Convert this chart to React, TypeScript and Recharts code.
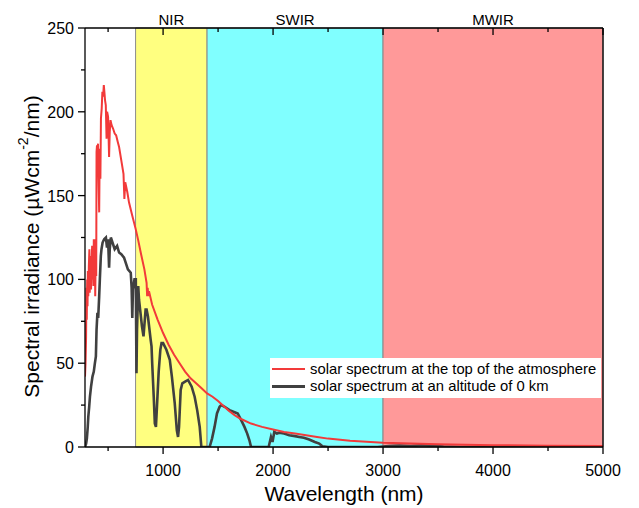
import React from 'react';
import { ComposedChart, Line, XAxis, YAxis, ReferenceArea, Legend, Label } from 'recharts';

const FONT = '"Liberation Sans", Arial, Helvetica, sans-serif';

// wavelength in nm, irradiance in µW cm-2 nm-1
const topOfAtmosphere = [
  { wl: 290, v: 42 }, { wl: 295, v: 50 }, { wl: 300, v: 66 }, { wl: 303, v: 95 },
  { wl: 306, v: 76 }, { wl: 310, v: 100 }, { wl: 313, v: 84 }, { wl: 316, v: 105 },
  { wl: 320, v: 90 }, { wl: 325, v: 108 }, { wl: 330, v: 118 }, { wl: 333, v: 92 },
  { wl: 337, v: 106 }, { wl: 340, v: 114 }, { wl: 345, v: 94 }, { wl: 350, v: 110 },
  { wl: 355, v: 120 }, { wl: 358, v: 100 }, { wl: 362, v: 117 }, { wl: 367, v: 96 },
  { wl: 370, v: 124 }, { wl: 375, v: 110 }, { wl: 380, v: 124 }, { wl: 383, v: 90 },
  { wl: 388, v: 118 }, { wl: 392, v: 102 }, { wl: 395, v: 176 }, { wl: 399, v: 180 },
  { wl: 403, v: 172 }, { wl: 408, v: 181 }, { wl: 413, v: 160 }, { wl: 419, v: 140 },
  { wl: 424, v: 178 }, { wl: 430, v: 160 }, { wl: 435, v: 196 }, { wl: 442, v: 202 },
  { wl: 448, v: 212 }, { wl: 455, v: 209 }, { wl: 461, v: 216 }, { wl: 466, v: 212 },
  { wl: 472, v: 207 }, { wl: 479, v: 204 }, { wl: 486, v: 184 }, { wl: 491, v: 200 },
  { wl: 500, v: 197 }, { wl: 509, v: 173 }, { wl: 515, v: 188 }, { wl: 522, v: 195 },
  { wl: 532, v: 192 }, { wl: 545, v: 190 }, { wl: 560, v: 187 }, { wl: 573, v: 186 },
  { wl: 588, v: 182 }, { wl: 600, v: 179 }, { wl: 620, v: 171 }, { wl: 640, v: 163 },
  { wl: 648, v: 148 }, { wl: 656, v: 158 }, { wl: 675, v: 152 }, { wl: 690, v: 146 },
  { wl: 720, v: 138 }, { wl: 751, v: 130 }, { wl: 775, v: 123 }, { wl: 800, v: 115 },
  { wl: 830, v: 106 }, { wl: 850, v: 98 }, { wl: 855, v: 90 }, { wl: 860, v: 95 },
  { wl: 866, v: 90 }, { wl: 872, v: 93 }, { wl: 900, v: 85 }, { wl: 950, v: 76 },
  { wl: 1000, v: 68 }, { wl: 1050, v: 61 }, { wl: 1100, v: 55 }, { wl: 1150, v: 50 },
  { wl: 1200, v: 45 }, { wl: 1250, v: 41 }, { wl: 1300, v: 38 }, { wl: 1350, v: 35 },
  { wl: 1400, v: 32 }, { wl: 1450, v: 30 }, { wl: 1500, v: 27.5 }, { wl: 1550, v: 24.5 },
  { wl: 1600, v: 21.5 }, { wl: 1650, v: 19 }, { wl: 1700, v: 17 }, { wl: 1800, v: 14 },
  { wl: 1900, v: 12 }, { wl: 2000, v: 10.5 }, { wl: 2100, v: 9 }, { wl: 2200, v: 8 },
  { wl: 2300, v: 7 }, { wl: 2400, v: 6 }, { wl: 2500, v: 5 }, { wl: 2700, v: 3.8 },
  { wl: 3000, v: 2.6 }, { wl: 3500, v: 1.7 }, { wl: 4000, v: 1.1 }, { wl: 4500, v: 0.8 },
  { wl: 5000, v: 0.6 },
];

const seaLevel = [
  { wl: 290, v: 0 }, { wl: 300, v: 2 }, { wl: 307, v: 5 }, { wl: 315, v: 12 },
  { wl: 320, v: 18 }, { wl: 328, v: 24 }, { wl: 335, v: 30 }, { wl: 345, v: 36 },
  { wl: 358, v: 42 }, { wl: 370, v: 45 }, { wl: 380, v: 50 }, { wl: 389, v: 54 },
  { wl: 395, v: 70 }, { wl: 403, v: 80 }, { wl: 410, v: 77 }, { wl: 419, v: 90 },
  { wl: 425, v: 100 }, { wl: 434, v: 114 }, { wl: 440, v: 118 }, { wl: 450, v: 122 },
  { wl: 464, v: 124 }, { wl: 480, v: 125 }, { wl: 490, v: 119 }, { wl: 500, v: 124 },
  { wl: 509, v: 107 }, { wl: 515, v: 118 }, { wl: 525, v: 125 }, { wl: 540, v: 122 },
  { wl: 560, v: 118 }, { wl: 582, v: 120 }, { wl: 600, v: 116 }, { wl: 620, v: 115 },
  { wl: 645, v: 113 }, { wl: 660, v: 110 }, { wl: 680, v: 106 }, { wl: 706, v: 104 },
  { wl: 714, v: 95 }, { wl: 720, v: 77 }, { wl: 726, v: 94 }, { wl: 740, v: 100 },
  { wl: 752, v: 100 }, { wl: 758, v: 44 }, { wl: 763, v: 70 }, { wl: 774, v: 96 },
  { wl: 781, v: 88 }, { wl: 808, v: 72 }, { wl: 822, v: 66 }, { wl: 841, v: 82 },
  { wl: 850, v: 82 }, { wl: 862, v: 78 }, { wl: 887, v: 64 }, { wl: 895, v: 60 },
  { wl: 901, v: 50 }, { wl: 915, v: 30 }, { wl: 925, v: 14 }, { wl: 935, v: 12 },
  { wl: 945, v: 25 }, { wl: 960, v: 45 }, { wl: 975, v: 58 }, { wl: 986, v: 62 },
  { wl: 1000, v: 62 }, { wl: 1030, v: 58 }, { wl: 1061, v: 52 }, { wl: 1080, v: 42 },
  { wl: 1106, v: 26 }, { wl: 1125, v: 10 }, { wl: 1136, v: 6 }, { wl: 1145, v: 12 },
  { wl: 1160, v: 34 }, { wl: 1175, v: 38 }, { wl: 1200, v: 39 }, { wl: 1227, v: 40 },
  { wl: 1260, v: 36 }, { wl: 1287, v: 30 }, { wl: 1310, v: 22 }, { wl: 1333, v: 12 },
  { wl: 1348, v: 0 }, { wl: 1423, v: 0 }, { wl: 1445, v: 5 }, { wl: 1468, v: 12 },
  { wl: 1490, v: 20 }, { wl: 1514, v: 24 }, { wl: 1529, v: 25 }, { wl: 1560, v: 24 },
  { wl: 1604, v: 22 }, { wl: 1640, v: 21 }, { wl: 1679, v: 20 }, { wl: 1710, v: 16 },
  { wl: 1740, v: 12 }, { wl: 1765, v: 8 }, { wl: 1785, v: 4 }, { wl: 1800, v: 0 },
  { wl: 1960, v: 0 }, { wl: 1981, v: 6 }, { wl: 1995, v: 3 }, { wl: 2011, v: 9 },
  { wl: 2035, v: 8 }, { wl: 2057, v: 8.5 }, { wl: 2100, v: 8 }, { wl: 2147, v: 7 },
  { wl: 2200, v: 6.5 }, { wl: 2238, v: 6 }, { wl: 2280, v: 5.5 }, { wl: 2328, v: 4.5 },
  { wl: 2380, v: 3 }, { wl: 2420, v: 2 }, { wl: 2449, v: 0.5 }, { wl: 2500, v: 0 },
  { wl: 2950, v: 0 }, { wl: 3050, v: 0.5 }, { wl: 3150, v: 0.9 }, { wl: 3250, v: 0.6 },
  { wl: 3350, v: 1 }, { wl: 3450, v: 0.7 }, { wl: 3550, v: 0.3 }, { wl: 3700, v: 0 },
  { wl: 5000, v: 0 },
];

const bands = [
  { name: 'NIR', from: 750, to: 1400, color: '#ffff80' },
  { name: 'SWIR', from: 1400, to: 3000, color: '#80ffff' },
  { name: 'MWIR', from: 3000, to: 5000, color: '#ff9999' },
];

const xTicks = [500, 1000, 1500, 2000, 2500, 3000, 3500, 4000, 4500, 5000];
const yTicks = [0, 25, 50, 75, 100, 125, 150, 175, 200, 225, 250];

const series = [
  { name: 'solar spectrum at the top of the atmosphere', color: '#f23a3a' },
  { name: 'solar spectrum at an altitude of 0 km', color: '#404040' },
];

function BottomTick({ x, y, payload }: any) {
  const major = payload.value % 1000 === 0;
  return (
    <g>
      <line x1={x} x2={x} y1={y} y2={y + (major ? 7 : 4)} stroke="#000" strokeWidth={1.3} />
      {major && (
        <text x={x} y={y + 29} textAnchor="middle" fontSize={16} fontFamily={FONT} fill="#000">
          {payload.value}
        </text>
      )}
    </g>
  );
}

function TopTick({ x, y, payload }: any) {
  const major = payload.value % 1000 === 0;
  return <line x1={x} x2={x} y1={y} y2={y + (major ? 7 : 4)} stroke="#000" strokeWidth={1.3} />;
}

function LeftTick({ x, y, payload }: any) {
  const major = payload.value % 50 === 0;
  return (
    <g>
      <line x1={x - (major ? 7 : 4)} x2={x} y1={y} y2={y} stroke="#000" strokeWidth={1.3} />
      {major && (
        <text x={x - 11} y={y + 6} textAnchor="end" fontSize={16} fontFamily={FONT} fill="#000">
          {payload.value}
        </text>
      )}
    </g>
  );
}

function RightTick({ x, y, payload }: any) {
  const major = payload.value % 50 === 0;
  return <line x1={x - (major ? 7 : 4)} x2={x} y1={y} y2={y} stroke="#000" strokeWidth={1.3} />;
}

function YTitle({ viewBox }: any) {
  const cx = 31;
  const cy = viewBox.y + viewBox.height / 2 + 9;
  return (
    <text x={cx} y={cy} transform={`rotate(-90 ${cx} ${cy})`} textAnchor="middle" dominantBaseline="central" fontSize={21} fontFamily={FONT} fill="#000">
      Spectral irradiance (µWcm
      <tspan fontSize={14} dy={-8}>-2</tspan>
      <tspan dy={8}>/nm)</tspan>
    </text>
  );
}

function XTitle({ viewBox }: any) {
  return (
    <text x={viewBox.x + viewBox.width / 2} y={501} textAnchor="middle" fontSize={21} fontFamily={FONT} fill="#000">
      Wavelength (nm)
    </text>
  );
}

function LegendBox() {
  return (
    <div style={{ background: '#fff', padding: '2px 0 2px 2px', fontFamily: FONT, fontSize: 14.8, color: '#000', height: 36 }}>
      {series.map((s) => (
        <div key={s.name} style={{ display: 'flex', alignItems: 'center', height: 17.5 }}>
          <span style={{ display: 'inline-block', width: 33, height: 2.5, background: s.color, marginRight: 5 }} />
          <span style={{ whiteSpace: 'nowrap' }}>{s.name}</span>
        </div>
      ))}
    </div>
  );
}

export default function App() {
  return (
    <div style={{ position: 'absolute', left: 0, top: 0, width: 639, height: 508, background: '#fff' }}>
      <ComposedChart width={639} height={508} margin={{ top: 18, right: 26, bottom: 0, left: 0 }}>
        {bands.map((b) => (
          <ReferenceArea
            key={b.name}
            x1={b.from}
            x2={b.to}
            y1={0}
            y2={250}
            fill={b.color}
            fillOpacity={1}
            stroke="#8a8a8a"
            strokeWidth={1}
            label={{ value: b.name, position: 'top', offset: 3, fontSize: 15, fill: '#000', fontFamily: FONT }}
          />
        ))}
        <XAxis
          dataKey="wl"
          type="number"
          domain={[290, 5000]}
          allowDataOverflow
          ticks={xTicks}
          interval={0}
          height={61}
          tickSize={0}
          tickMargin={0}
          tickLine={false}
          axisLine={{ stroke: '#000', strokeWidth: 1.3 }}
          tick={(p: any) => <BottomTick {...p} />}
        >
          <Label content={(p: any) => <XTitle {...p} />} />
        </XAxis>
        <XAxis
          xAxisId="top"
          orientation="top"
          dataKey="wl"
          type="number"
          domain={[290, 5000]}
          allowDataOverflow
          ticks={xTicks}
          interval={0}
          height={10}
          tickSize={0}
          tickMargin={0}
          tickLine={false}
          axisLine={{ stroke: '#000', strokeWidth: 1.3 }}
          tick={(p: any) => <TopTick {...p} />}
        />
        <YAxis
          type="number"
          domain={[0, 250]}
          allowDataOverflow
          ticks={yTicks}
          interval={0}
          width={85}
          tickSize={0}
          tickMargin={0}
          tickLine={false}
          axisLine={{ stroke: '#000', strokeWidth: 1.3 }}
          tick={(p: any) => <LeftTick {...p} />}
        >
          <Label content={(p: any) => <YTitle {...p} />} />
        </YAxis>
        <YAxis
          yAxisId="right"
          orientation="right"
          type="number"
          domain={[0, 250]}
          ticks={yTicks}
          interval={0}
          width={10}
          tickSize={0}
          tickMargin={0}
          tickLine={false}
          axisLine={{ stroke: '#000', strokeWidth: 1.3 }}
          tick={(p: any) => <RightTick {...p} />}
        />
        <Line
          data={seaLevel}
          dataKey="v"
          name={series[1].name}
          type="linear"
          stroke={series[1].color}
          strokeWidth={2.6}
          dot={false}
          isAnimationActive={false}
        />
        <Line
          data={topOfAtmosphere}
          dataKey="v"
          name={series[0].name}
          type="linear"
          stroke={series[0].color}
          strokeWidth={2}
          dot={false}
          isAnimationActive={false}
        />
        <Legend
          layout="vertical"
          align="center"
          verticalAlign="middle"
          wrapperStyle={{ left: 270, top: 358, width: 331, height: 39 }}
          content={() => <LegendBox />}
        />
      </ComposedChart>
    </div>
  );
}
